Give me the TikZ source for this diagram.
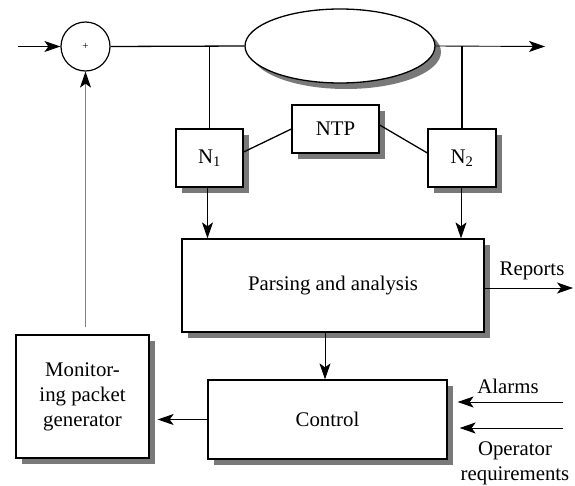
\documentclass[tikz,border=0pt]{standalone}
\usepackage{fontspec}
\setmainfont{Liberation Serif}
\usetikzlibrary{arrows.meta,shapes.geometric,shadows}
\begin{document}
\begin{tikzpicture}[x=1pt,y=-1pt,
  font=\fontsize{20.8}{25}\selectfont,
  shad/.style={drop shadow={opacity=1,fill=gray!95!black,shadow xshift=6pt,shadow yshift=-6pt}},
  blk/.style={draw,line width=1.3pt,fill=white,shad,inner sep=0pt,align=center},
  conn/.style={line width=1.3pt},
  arr/.style={line width=0.9pt,-{Stealth[length=16pt,width=11pt,inset=4pt]}},
  ]
\useasboundingbox (0,0) rectangle (575,485);
% nodes
\node[draw,circle,line width=1.2pt,minimum size=49pt,inner sep=0pt,font=\fontsize{11}{12}\selectfont] (sum) at (85.5,46.5) {+};
\node[blk,ellipse,minimum width=190pt,minimum height=74pt] (ell) at (340,46) {};
\node[blk,minimum width=67pt,minimum height=58pt] (N1) at (209.5,158) {N\textsubscript{1}};
\node[blk,minimum width=68pt,minimum height=58pt] (N2) at (462,158) {N\textsubscript{2}};
\node[blk,minimum width=87pt,minimum height=48pt] (ntp) at (335.5,129) {NTP};
\node[blk,minimum width=302pt,minimum height=93pt] (parse) at (333,285.5) {Parsing and analysis};
\node[blk,minimum width=239pt,minimum height=79pt] (ctrl) at (327.5,419.5) {Control};
\node[blk,minimum width=133pt,minimum height=123pt] (mon) at (82.5,396.5) {Monitor-\\ing packet\\generator};
% coordinates
\coordinate (in) at (18,46.5);
\coordinate (out) at (545,46.5);
\coordinate (rep) at (573,288);
\coordinate (al) at (563,402);
\coordinate (op) at (563,428);
% labels
\node (replab) at (532,271) {Reports};
\node (allab) at (508,386) {Alarms};
\node[align=center] (oplab) at (515,463) {Operator\\requirements};
% connectors
\draw[arr] (in) -- (sum.west);
\draw[conn] (sum.east) -- (ell.west);
\draw[conn] (N1.north) -- (N1.north |- ell.west);
\draw[arr] (ell.east) -- (out);
\draw[conn] (N2.north) -- (N2.north |- ell.east);
\draw[conn] ([yshift=6pt]N1.east) -- (ntp.west);
\draw[conn] ([yshift=4pt]ntp.east) -- ([yshift=5pt]N2.west);
\draw[arr] ([xshift=-2pt]N1.south) -- ([xshift=-2pt]N1.south |- parse.north);
\draw[arr] ([xshift=-1pt]N2.south) -- ([xshift=-1pt]N2.south |- parse.north);
\draw[arr] (parse.east |- rep) -- (rep);
\draw[arr] ([xshift=-8pt]parse.south) -- ([xshift=-2.5pt]ctrl.north);
\draw[arr,shorten >=8pt] (ctrl.west) -- (ctrl.west -| mon.east);
\draw[line width=0.9pt,gray,-{Stealth[length=16pt,width=11pt,inset=4pt,color=black]},shorten <=7pt] (sum.south |- mon.north) -- (sum.south);
\draw[arr,shorten >=10pt] (al) -- (al -| ctrl.east);
\draw[arr,shorten >=12pt] (op) -- (op -| ctrl.east);
\end{tikzpicture}
\end{document}
